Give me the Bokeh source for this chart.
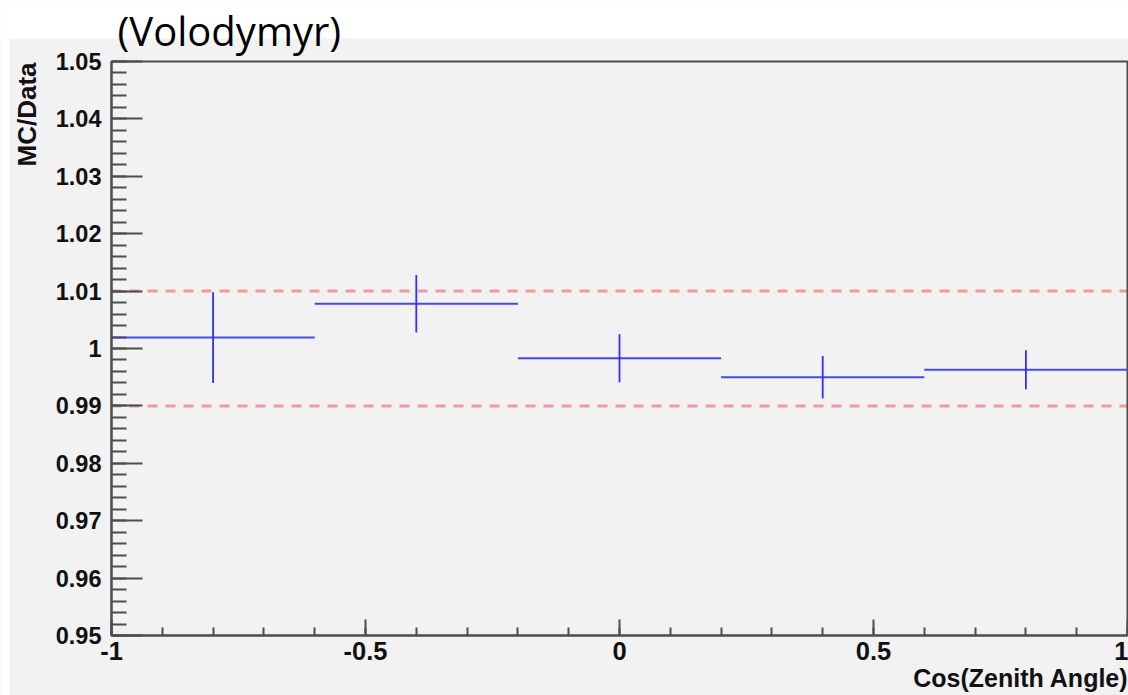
from math import pi
from bokeh.plotting import figure
from bokeh.models import (Range1d, SingleIntervalTicker, CustomJSTickFormatter, LinearAxis,
                          Label, BoxAnnotation, ColumnDataSource)
from bokeh.embed import file_html
from bokeh.resources import INLINE

# ---- data ----
bin_centers = [-0.8, -0.4, 0.0, 0.4, 0.8]
bin_half_widths = [0.2, 0.2, 0.2, 0.2, 0.2]
ratio = [1.0019, 1.0078, 0.9983, 0.9950, 0.9963]
ratio_err = [0.0079, 0.0050, 0.0042, 0.0037, 0.0034]
band_levels = [0.99, 1.01]
x_limits = [-1.0, 1.0]
y_limits = [0.95, 1.05]
title_text = "(Volodymyr)"
x_title = "Cos(Zenith Angle)"
y_title = "MC/Data"

# ---- layout (pixels) ----
W, H = 1128, 695
PX_L, PX_R, PX_T, PX_B = 111, 1127, 61, 635
GREY = "#f2f2f2"
AXC = "#4d4d4d"
FONT = "Liberation Sans"

sx = (PX_R - PX_L) / (x_limits[1] - x_limits[0])
sy = (PX_B - PX_T) / (y_limits[1] - y_limits[0])
xr = Range1d(x_limits[0] - PX_L / sx, x_limits[1] + (W - PX_R) / sx)
yr = Range1d(y_limits[0] - (H - PX_B) / sy, y_limits[1] + PX_T / sy)

src = ColumnDataSource(dict(
    x=bin_centers,
    x0=[c - h for c, h in zip(bin_centers, bin_half_widths)],
    x1=[c + h for c, h in zip(bin_centers, bin_half_widths)],
    y=ratio,
    ylo=[r - e for r, e in zip(ratio, ratio_err)],
    yhi=[r + e for r, e in zip(ratio, ratio_err)],
))

p = figure(width=W, height=H, output_backend="svg", toolbar_location=None,
           x_range=xr, y_range=yr, x_axis_location=None, y_axis_location=None,
           min_border=0)
p.border_fill_color = "white"
p.background_fill_color = GREY
p.outline_line_color = None
p.grid.visible = False

# white strips at top and left
p.add_layout(BoxAnnotation(left=0, right=W, top=0, bottom=38,
                           left_units="canvas", right_units="canvas",
                           top_units="canvas", bottom_units="canvas",
                           fill_color="white", fill_alpha=1.0, line_color=None,
                           level="underlay"))
p.add_layout(BoxAnnotation(left=0, right=9, top=0, bottom=H,
                           left_units="canvas", right_units="canvas",
                           top_units="canvas", bottom_units="canvas",
                           fill_color="white", fill_alpha=1.0, line_color=None,
                           level="underlay"))

# reference band lines
for lvl in band_levels:
    p.segment(x0=[x_limits[0]], x1=[x_limits[1]], y0=[lvl], y1=[lvl],
              line_color="#f29a9a", line_width=3, line_dash="10 8")

# frame box (top / right edges)
p.quad(left=[x_limits[0]], right=[x_limits[1]], bottom=[y_limits[0]], top=[y_limits[1]],
       fill_color=None, line_color=AXC, line_width=2)

# histogram points with error bars
p.segment(x0="x0", x1="x1", y0="y", y1="y", source=src, line_color="#4646ff", line_width=2)
p.segment(x0="x", x1="x", y0="ylo", y1="yhi", source=src, line_color="#2f2fff", line_width=1.8)

# axes fixed at the frame edges
xaxis = LinearAxis(fixed_location=y_limits[0], bounds=tuple(x_limits),
                   ticker=SingleIntervalTicker(interval=0.5, num_minor_ticks=5),
                   formatter=CustomJSTickFormatter(code="return String(parseFloat(tick.toFixed(1)))"))
yaxis = LinearAxis(fixed_location=x_limits[0], bounds=tuple(y_limits),
                   ticker=SingleIntervalTicker(interval=0.01, num_minor_ticks=5),
                   formatter=CustomJSTickFormatter(code="return String(parseFloat(tick.toFixed(2)))"))
for ax in (xaxis, yaxis):
    ax.axis_line_color = AXC
    ax.axis_line_width = 2
    ax.major_tick_line_color = AXC
    ax.major_tick_line_width = 2
    ax.minor_tick_line_color = AXC
    ax.minor_tick_line_width = 2
    ax.major_tick_out = 0
    ax.minor_tick_out = 0
    ax.major_label_text_font = FONT
    ax.major_label_text_font_style = "bold"
    ax.major_label_text_color = "#111111"
xaxis.major_label_text_font_size = "25.5px"
yaxis.major_label_text_font_size = "23.5px"
xaxis.major_tick_in = 16
xaxis.minor_tick_in = 8
yaxis.major_tick_in = 31
yaxis.minor_tick_in = 15
xaxis.major_label_standoff = 6
yaxis.major_label_standoff = 10
p.add_layout(xaxis, "below")
p.add_layout(yaxis, "left")

# titles
p.add_layout(Label(x=x_limits[0], y=y_limits[1], x_offset=6, y_offset=31, text=title_text,
                   text_font="Open Sans", text_font_size="40px", text_color="black",
                   text_baseline="alphabetic", text_align="left"))
p.add_layout(Label(x=x_limits[0], y=y_limits[1], x_offset=-85, y_offset=-1, text=y_title,
                   angle=pi / 2, text_font=FONT, text_font_style="bold",
                   text_font_size="26px", text_color="#111111",
                   text_baseline="alphabetic", text_align="right"))
p.add_layout(Label(x=x_limits[1], y=y_limits[0], x_offset=1, y_offset=-42, text=x_title,
                   text_font=FONT, text_font_style="bold",
                   text_font_size="25px", text_color="#111111",
                   text_baseline="alphabetic", text_align="right"))

open("out.html", "w").write(file_html(p, INLINE))
